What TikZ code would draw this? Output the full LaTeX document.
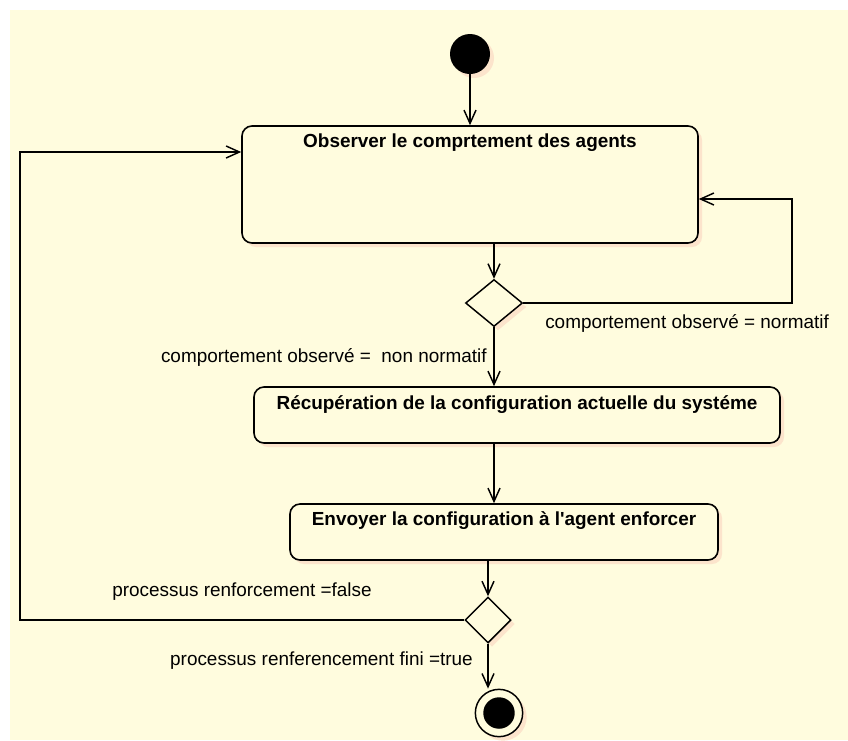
\documentclass[tikz,border=0pt]{standalone}
\usepackage{fontspec}
\setmainfont{Liberation Sans}
\usetikzlibrary{arrows.meta}
\usetikzlibrary{shapes.geometric}
\usetikzlibrary{shadows}

\definecolor{paper}{RGB}{255,252,222}
\definecolor{peach}{RGB}{252,228,204}

\begin{document}
\begin{tikzpicture}[x=0.75pt, y=-0.75pt,
  flow/.style={black, line width=1.1pt, -{Straight Barb[length=10pt,width=9pt]}},
  peachshadow/.style={drop shadow={fill=peach, opacity=1, shadow xshift=3pt, shadow yshift=-3pt}},
  actbox/.style={draw, line width=1.2pt, rounded corners=7.5pt, fill=paper, inner sep=0pt, peachshadow},
  boxtitle/.style={font=\fontsize{14.2}{17}\selectfont\bfseries, inner sep=0pt},
  guard/.style={font=\fontsize{14.2}{17}\selectfont, inner sep=0pt},
  decision/.style={diamond, draw, line width=1.1pt, fill=paper, inner sep=0pt, peachshadow},
  initnode/.style={circle, fill=black, minimum size=30pt, inner sep=0pt, peachshadow},
  finalnode/.style={circle, draw, line width=1.1pt, fill=paper, minimum size=35.5pt, inner sep=0pt, peachshadow,
    path picture={\fill[black] (path picture bounding box.center) circle (11.8pt);}}]

\fill[white] (0,0) rectangle (848,740);
\fill[paper] (10,10) rectangle (848,740);
\useasboundingbox (0,0) rectangle (848,740);

% states
\node[initnode] (init) at (470,54) {};
\node[actbox, minimum width=342pt, minimum height=87.75pt] (obs) at (470,184.5) {};
\node[boxtitle] (obsT) at (470,143) {Observer le comprtement des agents};
\node[decision, minimum width=42.75pt, minimum height=35.25pt] (d1) at (494,303) {};
\node[actbox, minimum width=394.5pt, minimum height=42pt] (rec) at (517,415) {};
\node[boxtitle] (recT) at (517,405) {Récupération de la configuration actuelle du systéme};
\node[actbox, minimum width=321pt, minimum height=42pt] (env) at (504,532) {};
\node[boxtitle] (envT) at (504,521) {Envoyer la configuration à l\textquotesingle agent enforcer};
\node[decision, minimum width=34.5pt, minimum height=34.5pt] (d2) at (488,620) {};
\node[finalnode] (fin) at (499,713) {};

% loops
\coordinate (rloop) at (792,199);
\coordinate (lloop) at (20,152);

% transitions
\draw[flow] (init.south) -- (init.south |- obs.north);
\draw[flow] (d1.north |- obs.south) -- (d1.north);
\draw[flow] (d1.east) -| (rloop) -- (rloop -| obs.east);
\draw[flow] (d1.south) -- (d1.south |- rec.north);
\draw[flow] (d1.south |- rec.south) -- (d1.south |- env.north);
\draw[flow] (d2.north |- env.south) -- (d2.north);
\draw[flow] (d2.west) -| (lloop) -- (lloop -| obs.west);
\draw[flow] (d2.south) -- (d2.south |- fin.north);

% guards
\node[guard, anchor=west] (gNorm) at (545,323) {comportement observé = normatif};
\node[guard, anchor=east] (gNonNorm) at (487,357) {comportement observé = \ non normatif};
\node[guard, anchor=west] (gFalse) at (112,592) {processus renforcement =false};
\node[guard, anchor=east] (gTrue) at (473,661) {processus renferencement fini =true};

\end{tikzpicture}
\end{document}
